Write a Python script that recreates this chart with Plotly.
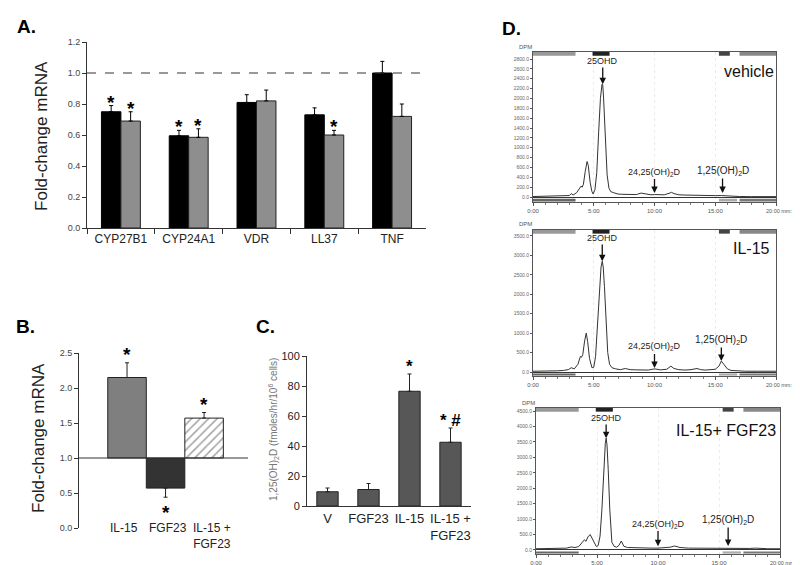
import plotly.graph_objects as go

W, H = 800, 565
def px(x):
    return x / W
def py(y):
    return 1 - y / H

FONT = "Liberation Sans, Arial, sans-serif"

# ---------------- Panel A data ----------------
a_genes = ["CYP27B1", "CYP24A1", "VDR", "LL37", "TNF"]
a_black = [0.75, 0.595, 0.81, 0.73, 1.00]
a_black_err = [0.04, 0.035, 0.05, 0.045, 0.075]
a_gray = [0.69, 0.585, 0.82, 0.60, 0.72]
a_gray_err = [0.06, 0.055, 0.07, 0.03, 0.08]
a_black_sig = ["*", "*", "", "", ""]
a_gray_sig = ["*", "*", "", "*", ""]
a_ticks = [0.0, 0.2, 0.4, 0.6, 0.8, 1.0, 1.2]
a_ticktext = ["0.0", "0.2", "0.4", "0.6", "0.8", "1.0", "1.2"]

# ---------------- Panel B data ----------------
b_groups = ["IL-15", "FGF23", "IL-15 +<br>FGF23"]
b_values = [2.15, 0.57, 1.57]
b_err_up = [0.21, 0.0, 0.08]
b_err_down = [0.0, 0.13, 0.0]
b_sig = ["*", "*", "*"]
b_ticks = [0.0, 0.5, 1.0, 1.5, 2.0, 2.5]
b_ticktext = ["0.0", "0.5", "1.0", "1.5", "2.0", "2.5"]
b_baseline = 1.0

# ---------------- Panel C data ----------------
c_groups = ["V", "FGF23", "IL-15", "IL-15 +<br>FGF23"]
c_values = [9.5, 11.0, 76.5, 42.5]
c_err = [2.5, 4.0, 11.5, 9.5]
c_sig = ["", "", "*", "* #"]
c_ticks = [0, 20, 40, 60, 80, 100]

# ---------------- Panel D data (HPLC radio-chromatograms) ----------------
d_veh_t = [0, 0.5, 1.0, 1.5, 2.0, 2.5, 3.0, 3.15, 3.3, 3.6, 3.8, 3.95, 4.05, 4.15, 4.3, 4.45,
           4.55, 4.7, 4.85, 4.95, 5.1, 5.25, 5.4, 5.55, 5.68, 5.74, 5.8, 5.9, 6.0, 6.1, 6.25,
           6.4, 6.6, 6.8, 7.0, 7.3, 7.6, 8.0, 8.5, 8.9, 9.3, 9.7, 10.0, 10.4, 10.8, 11.2, 11.4,
           11.6, 12.0, 12.5, 13.0, 13.5, 14.0, 14.5, 15.0, 15.5, 16.0, 16.5, 17, 18, 19, 20]
d_veh_v = [10, 12, 10, 14, 12, 18, 30, 70, 40, 90, 180, 220, 200, 260, 520, 720,
           640, 300, 110, 60, 150, 500, 1300, 2000, 2290, 2280, 2050, 1500, 900, 450, 180,
           110, 90, 70, 60, 55, 50, 45, 50, 80, 55, 45, 50, 40, 45, 75, 95,
           70, 45, 40, 35, 35, 30, 30, 28, 30, 20, 15, 10, 8, 8, 8]

d_il15_t = [0, 0.5, 1, 1.5, 2, 2.5, 2.9, 3.15, 3.4, 3.7, 3.9, 4.0, 4.1, 4.25, 4.38, 4.5, 4.65,
            4.85, 5.0, 5.15, 5.3, 5.45, 5.6, 5.7, 5.78, 5.88, 6.0, 6.15, 6.3, 6.5, 6.8, 7.2,
            7.6, 8.0, 8.5, 9.0, 9.5, 10.0, 10.5, 11.0, 11.35, 11.6, 12.0, 12.5, 13.0, 13.5,
            13.8, 14.2, 14.6, 15.0, 15.3, 15.5, 15.7, 16.0, 16.3, 16.8, 17.5, 18.5, 20]
d_il15_v = [20, 20, 25, 25, 30, 40, 60, 110, 80, 200, 400, 380, 450, 800, 1000, 780, 350,
            110, 120, 400, 1100, 2000, 2700, 2850, 2700, 2200, 1300, 500, 200, 110, 80, 60,
            90, 60, 55, 60, 50, 80, 55, 70, 150, 90, 60, 50, 60, 90,
            60, 50, 55, 70, 150, 280, 200, 80, 40, 25, 20, 20, 20]

d_comb_t = [0, 0.5, 1, 1.5, 2, 2.5, 2.88, 3.2, 3.5, 3.8, 3.97, 4.1, 4.25, 4.44, 4.6, 4.8,
            4.95, 5.1, 5.25, 5.4, 5.55, 5.68, 5.75, 5.82, 5.92, 6.05, 6.22, 6.4, 6.6, 6.8,
            6.99, 7.2, 7.5, 8.0, 8.5, 9.0, 9.5, 10.0, 10.5, 11.0, 11.37, 11.8, 12.5, 13.5,
            14.5, 15.0, 15.75, 16.5, 17.5, 18, 18.5, 19, 20]
d_comb_v = [40, 40, 45, 45, 50, 60, 97, 80, 110, 250, 330, 280, 420, 500, 380, 180,
            110, 150, 450, 1300, 2600, 3450, 3620, 3400, 2600, 1300, 250, 120, 90, 150,
            290, 120, 80, 70, 60, 70, 60, 60, 65, 90, 130, 80, 60, 55,
            60, 50, 55, 50, 50, 60, 45, 40, 40]

d_time_ticks = [0, 5, 10, 15, 20]
d_time_text = ["0:00", "5:00", "10:00", "15:00", ""]
d_time_end = "20:00 mm:ss"
d_titles = ["vehicle", "IL-15", "IL-15+ FGF23"]
d_peaks = ["25OHD", "24,25(OH)<sub>2</sub>D", "1,25(OH)<sub>2</sub>D"]
d_veh_ticks = list(range(0, 2801, 200))
d_il15_ticks = list(range(0, 3501, 500))
d_comb_ticks = list(range(0, 4501, 500))
# peak marker positions (time, DPM at arrow head) per chromatogram
d_veh_marks = [(5.74, 2290), (10.0, 80), (15.6, 80)]
d_il15_marks = [(5.7, 2850), (10.0, 100), (15.5, 285)]
d_comb_marks = [(5.75, 3620), (10.0, 120), (15.75, 130)]

fig = go.Figure()

# ---------- Panel A ----------
fig.add_trace(go.Bar(
    x=a_genes, y=a_black, xaxis="x", yaxis="y", name="black",
    marker=dict(color="black", line=dict(color="black", width=1)),
    error_y=dict(type="data", symmetric=False, array=a_black_err,
                 arrayminus=[0] * len(a_black_err), color="black", thickness=1, width=2),
    showlegend=False))
fig.add_trace(go.Bar(
    x=a_genes, y=a_gray, xaxis="x", yaxis="y", name="gray",
    marker=dict(color="#8e8e8e", line=dict(color="#222222", width=1)),
    error_y=dict(type="data", symmetric=False, array=a_gray_err,
                 arrayminus=[0] * len(a_gray_err), color="black", thickness=1, width=2),
    showlegend=False))

# ---------- Panel B ----------
fig.add_trace(go.Bar(
    x=[0, 1, 2], y=[v - b_baseline for v in b_values], base=b_baseline,
    width=[1, 1, 1], xaxis="x2", yaxis="y2",
    marker=dict(color=["#7f7f7f", "#333333", "white"],
                line=dict(color="#222222", width=1),
                pattern=dict(shape=["", "", "/"], fgcolor="#444444", bgcolor="white",
                             size=6, solidity=0.25)),
    error_y=dict(type="data", symmetric=False, array=b_err_up, arrayminus=b_err_down,
                 color="#222222", thickness=1, width=2),
    showlegend=False))

# ---------- Panel C ----------
fig.add_trace(go.Bar(
    x=list(range(len(c_groups))), y=c_values, width=[0.52] * 4, xaxis="x3", yaxis="y3",
    marker=dict(color="#575757", line=dict(color="#222222", width=1)),
    error_y=dict(type="data", symmetric=False, array=c_err, arrayminus=[0] * 4,
                 color="#222222", thickness=1, width=2),
    showlegend=False))

# ---------- Panel D ----------
for (t, v, xa, ya) in [(d_veh_t, d_veh_v, "x4", "y4"),
                       (d_il15_t, d_il15_v, "x5", "y5"),
                       (d_comb_t, d_comb_v, "x6", "y6")]:
    fig.add_trace(go.Scatter(x=t, y=v, mode="lines", xaxis=xa, yaxis=ya,
                             line=dict(color="#333333", width=1), showlegend=False))

tickfont_small = dict(family=FONT, size=9, color="#444444")

layout = dict(
    width=W, height=H, margin=dict(l=0, r=0, t=0, b=0, pad=0, autoexpand=False),
    paper_bgcolor="white", plot_bgcolor="white",
    font=dict(family=FONT, color="#222222"),
    barmode="group", bargap=0.426, bargroupgap=0,
    showlegend=False,
    # A
    xaxis=dict(domain=[px(79), px(418)], anchor="y", showline=True, linecolor="#333",
               linewidth=1, ticks="outside", tickson="boundaries", ticklen=5,
               tickcolor="#333", tickfont=dict(family=FONT, size=12, color="#222"),
               showgrid=False, zeroline=False, automargin=False),
    yaxis=dict(domain=[py(220), py(34)], anchor="x", range=[0, 1.2], showline=True,
               linecolor="#333", linewidth=1, ticks="outside", ticklen=4, tickcolor="#333",
               tickvals=a_ticks, ticktext=a_ticktext, tickfont=tickfont_small,
               showgrid=False, zeroline=False, automargin=False),
    # B
    xaxis2=dict(domain=[px(71), px(240)], anchor="y2", range=[-1.247, 3.14], visible=False,
                automargin=False),
    yaxis2=dict(domain=[py(520), py(345)], anchor="x2", range=[0, 2.5], showline=True,
                linecolor="#333", linewidth=1, ticks="outside", ticklen=4, tickcolor="#333",
                tickvals=b_ticks, ticktext=b_ticktext, tickfont=tickfont_small,
                showgrid=False, zeroline=False, automargin=False),
    # C
    xaxis3=dict(domain=[px(299), px(463)], anchor="y3", range=[-0.5, 3.5], showline=True,
                linecolor="#333", linewidth=1, ticks="",
                tickvals=list(range(len(c_groups))), ticktext=c_groups,
                tickfont=dict(family=FONT, size=13, color="#222"),
                showgrid=False, zeroline=False, automargin=False),
    yaxis3=dict(domain=[py(498), py(348)], anchor="x3", range=[0, 100], showline=True,
                linecolor="#333", linewidth=1, ticks="outside", ticklen=4, tickcolor="#333",
                tickvals=c_ticks, tickfont=dict(family=FONT, size=11, color="#222"),
                showgrid=False, zeroline=False, automargin=False),
)

d_specs = [("x4", "y4", [525, 768], [194, 44], [-101, 2942], d_veh_ticks),
           ("x5", "y5", [525, 768], [368, 222], [-103, 3654], d_il15_ticks),
           ("x6", "y6", [528, 772], [546, 400], [-130, 4597], d_comb_ticks)]
for xa, ya, xd, yd, yr, yt in d_specs:
    xk = "xaxis" + xa[1:]
    yk = "yaxis" + ya[1:]
    layout[xk] = dict(domain=[px(xd[0]), px(xd[1])], anchor=ya, range=[0, 20],
                      showline=True, mirror=True, linecolor="#555", linewidth=1,
                      ticks="outside", ticklen=3, tickcolor="#555",
                      tickvals=d_time_ticks, ticktext=d_time_text,
                      tickfont=dict(family=FONT, size=6, color="#555"),
                      minor=dict(dtick=1, ticks="outside", ticklen=2, tickcolor="#777"),
                      showgrid=True, gridcolor="#ebebeb", griddash="dot", gridwidth=1,
                      zeroline=False, automargin=False)
    layout[yk] = dict(domain=[py(yd[0]), py(yd[1])], anchor=xa, range=yr,
                      showline=True, mirror=True, linecolor="#555", linewidth=1,
                      ticks="outside", ticklen=2, tickcolor="#555",
                      tickvals=yt, ticktext=["%.1f" % v for v in yt],
                      tickfont=dict(family=FONT, size=5, color="#666"),
                      showgrid=False, zeroline=True, zerolinecolor="#333", zerolinewidth=1,
                      automargin=False)

fig.update_layout(**layout)

ann = []
shapes = []

def paper_text(text, x, y, size, color="#222", angle=0, bold=False):
    return dict(text=("<b>%s</b>" % text) if bold else text, x=px(x), y=py(y),
                xref="paper", yref="paper", xanchor="center", yanchor="middle",
                textangle=angle, showarrow=False,
                font=dict(family=FONT, size=size, color=color))

# panel letters
for txt, x, y in [("A.", 18, 19), ("B.", 17, 318), ("C.", 257, 318), ("D.", 503, 20)]:
    ann.append(paper_text(txt, x, y, 19, "black", bold=True))

# A: y title, dashed line, stars
ann.append(paper_text("Fold-change mRNA", 33, 128, 17, angle=-90))
shapes.append(dict(type="line", xref="x domain", yref="y", x0=0, x1=1, y0=1.0, y1=1.0,
                   line=dict(color="#333", width=1, dash="dash")))
half = (1 - 0.426) / 4
for i, g in enumerate(a_genes):
    if a_black_sig[i]:
        ann.append(dict(text="<b>%s</b>" % a_black_sig[i], x=i - half, xref="x", yref="y",
                        y=a_black[i] + a_black_err[i], yanchor="bottom", yshift=-9,
                        showarrow=False, font=dict(family=FONT, size=19, color="black")))
    if a_gray_sig[i]:
        ann.append(dict(text="<b>%s</b>" % a_gray_sig[i], x=i + half, xref="x", yref="y",
                        y=a_gray[i] + a_gray_err[i], yanchor="bottom", yshift=-9,
                        showarrow=False, font=dict(family=FONT, size=19, color="black")))

# B: title, baseline, x labels, stars
ann.append(paper_text("Fold-change mRNA", 30, 430, 17, angle=-90))
shapes.append(dict(type="line", xref="x2 domain", yref="y2", x0=0, x1=1, y0=b_baseline,
                   y1=b_baseline, line=dict(color="#333", width=1)))
b_label_shift = [-3, 2, 8]
for i, g in enumerate(b_groups):
    ann.append(dict(text=g, x=i, xref="x2", xshift=b_label_shift[i], y=py(511), yref="paper",
                    xanchor="center", yanchor="top", showarrow=False,
                    font=dict(family=FONT, size=12, color="#222")))
for i, s in enumerate(b_sig):
    if b_values[i] >= b_baseline:
        ann.append(dict(text="<b>%s</b>" % s, x=i, xref="x2", yref="y2",
                        y=b_values[i] + b_err_up[i], yanchor="bottom", yshift=-4,
                        showarrow=False, font=dict(family=FONT, size=19, color="black")))
    else:
        ann.append(dict(text="<b>%s</b>" % s, x=i, xref="x2", yref="y2",
                        y=b_values[i] - b_err_down[i], yanchor="top", yshift=-3,
                        showarrow=False, font=dict(family=FONT, size=19, color="black")))

# C: y title, stars
ann.append(paper_text("1,25(OH)<sub>2</sub>D (fmoles/hr/10<sup>6</sup> cells)", 265, 422, 10,
                      color="#777", angle=-90))
for i, s in enumerate(c_sig):
    if s:
        ann.append(dict(text="<b>%s</b>" % s, x=i, xref="x3", yref="y3",
                        y=c_values[i] + c_err[i], yanchor="bottom", yshift=-4,
                        showarrow=False, font=dict(family=FONT, size=17, color="black")))

# D: titles, peak arrows, DPM, time-axis end label
d_title_pos = [(741, 63), (743, 240), (718, 422)]
d_text_y = [[53, 164, 163], [230, 339, 332], [410, 516, 512]]
d_marks = [d_veh_marks, d_il15_marks, d_comb_marks]
d_dpm_y = [39, 216, 395]
for k, (xa, ya, xd, yd, yr, yt) in enumerate(d_specs):
    ann.append(paper_text(d_titles[k], d_title_pos[k][0], d_title_pos[k][1], 16, "#111"))
    ann.append(paper_text("DPM", xd[0] - 8, d_dpm_y[k], 6, "#555"))
    ann.append(dict(text=d_time_end, x=20, xref=xa, xanchor="left", xshift=-12,
                    y=py(yd[0] + 4), yref="paper", yanchor="top", showarrow=False,
                    font=dict(family=FONT, size=5.5, color="#555")))
    scale = (yd[0] - yd[1]) / (yr[1] - yr[0])
    for j, (tt, vv) in enumerate(d_marks[k]):
        head_py = yd[0] - (vv - yr[0]) * scale
        ann.append(dict(text=d_peaks[j], x=tt, y=vv, xref=xa, yref=ya,
                        ax=0, ay=d_text_y[k][j] - head_py, showarrow=True,
                        arrowhead=2, arrowsize=1, arrowwidth=1.3, arrowcolor="#111",
                        font=dict(family=FONT, size=9 if j < 2 else 10, color="#222")))
    for (x0, x1, c) in [(0, 3.5, "#999"), (4.9, 6.3, "#222"), (15.3, 16.2, "#444"),
                        (17.0, 20, "#888")]:
        shapes.append(dict(type="rect", xref=xa, yref=ya + " domain", x0=x0, x1=x1,
                           y0=0.975, y1=1.0, fillcolor=c, line=dict(width=0)))
    for (x0, x1, c) in [(0, 3.5, "#666"), (15.3, 16.8, "#aaa"), (17.0, 20, "#777")]:
        shapes.append(dict(type="rect", xref=xa, yref=ya, x0=x0, x1=x1,
                           y0=yr[0] * 0.9, y1=yr[0] * 0.35, fillcolor=c, line=dict(width=0)))

fig.update_layout(annotations=ann, shapes=shapes)
fig.write_html("out.html")
